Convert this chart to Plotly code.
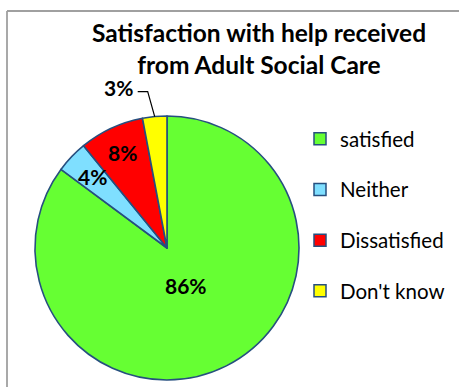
import math
import plotly.graph_objects as go

# ---- data ----
categories = ["satisfied", "Neither", "Dissatisfied", "Don't know"]
values = [86, 4, 8, 3]
value_labels = ["86%", "4%", "8%", "3%"]
colors = ["#66FF33", "#7FDFFF", "#FF0000", "#FFFF00"]
title_text = "Satisfaction with help received<br>from Adult Social Care"

# ---- layout / style constants ----
W, H = 459, 387
CX, CY, R = 167, 248, 132          # pie centre and radius in pixels
EDGE = "#264F7F"
FONT = "Lato"
label_radius = [0.32, 0.78, 0.80, None]   # fraction of radius for inside labels


def to_paper(px, py):
    return px / W, 1 - py / H


fig = go.Figure()

x0, y1 = to_paper(CX - R, CY - R)
x1, y0 = to_paper(CX + R, CY + R)
fig.add_trace(go.Pie(
    labels=categories,
    values=values,
    sort=False,
    direction="clockwise",
    rotation=0,
    marker=dict(colors=colors, line=dict(color=EDGE, width=1.6)),
    textinfo="none",
    hoverinfo="label+percent",
    showlegend=False,
    domain=dict(x=[x0, x1], y=[y0, y1]),
))

# legend entries (one group each so the spacing can match)
for cat, col in zip(categories, colors):
    fig.add_trace(go.Scatter(
        x=[None], y=[None], mode="markers", name=cat, legendgroup=cat,
        marker=dict(symbol="square", size=12, color=col,
                    line=dict(color=EDGE, width=1.5)),
    ))

# data labels placed from the slice angles
total = sum(values)
cum = 0
annotations = []
shapes = []
for i, v in enumerate(values):
    mid = math.radians((cum + v / 2) / total * 360)
    cum += v
    if label_radius[i] is not None:
        f = label_radius[i]
        px = CX + f * R * math.sin(mid)
        py = CY - f * R * math.cos(mid)
        ax, ay = to_paper(px, py)
        annotations.append(dict(x=ax, y=ay, xref="paper", yref="paper",
                                xanchor="center", yanchor="middle",
                                text=f"<b>{value_labels[i]}</b>", showarrow=False,
                                font=dict(family=FONT, size=21, color="black")))
    else:
        ex = CX + R * math.sin(mid)
        ey = CY - R * math.cos(mid)
        elbow = (ex - 7, ey - 25)
        end = (ex - 17, ey - 25)
        p0 = to_paper(ex, ey)
        p1 = to_paper(*elbow)
        p2 = to_paper(*end)
        shapes.append(dict(type="path", xref="paper", yref="paper",
                           path=f"M {p0[0]},{p0[1]} L {p1[0]},{p1[1]} L {p2[0]},{p2[1]}",
                           line=dict(color="black", width=1.2)))
        lx, ly = to_paper(end[0] - 3, end[1] - 4)
        annotations.append(dict(x=lx, y=ly, xref="paper", yref="paper",
                                xanchor="right", yanchor="middle",
                                text=f"<b>{value_labels[i]}</b>", showarrow=False,
                                font=dict(family=FONT, size=21, color="black")))

# chart frame: top and left edges (right/bottom lie outside the picture)
fx0, fy0 = to_paper(7, 11)
shapes.append(dict(type="line", xref="paper", yref="paper", x0=fx0, y0=fy0, x1=1, y1=fy0,
                   line=dict(color="#A0A0A0", width=1.8), layer="above"))
shapes.append(dict(type="line", xref="paper", yref="paper", x0=fx0, y0=fy0, x1=fx0, y1=0,
                   line=dict(color="#A0A0A0", width=1.8), layer="above"))

fig.update_layout(
    width=W, height=H,
    margin=dict(l=0, r=0, t=0, b=0),
    paper_bgcolor="white", plot_bgcolor="white",
    title=dict(text=f"<b>{title_text}</b>", x=259 / W, xanchor="center",
               y=1 - 42 / H, yanchor="middle",
               font=dict(family=FONT, size=24.5, color="black")),
    xaxis=dict(visible=False), yaxis=dict(visible=False),
    legend=dict(x=300 / W, y=1 - 119 / H, xanchor="left", yanchor="top",
                font=dict(family=FONT, size=20.5, color="black"),
                tracegroupgap=21, bgcolor="rgba(0,0,0,0)"),
    annotations=annotations,
    shapes=shapes,
)

fig.write_html("out.html", config={"displayModeBar": False},
               post_script="document.body.style.margin='0';document.body.style.overflow='hidden';")
